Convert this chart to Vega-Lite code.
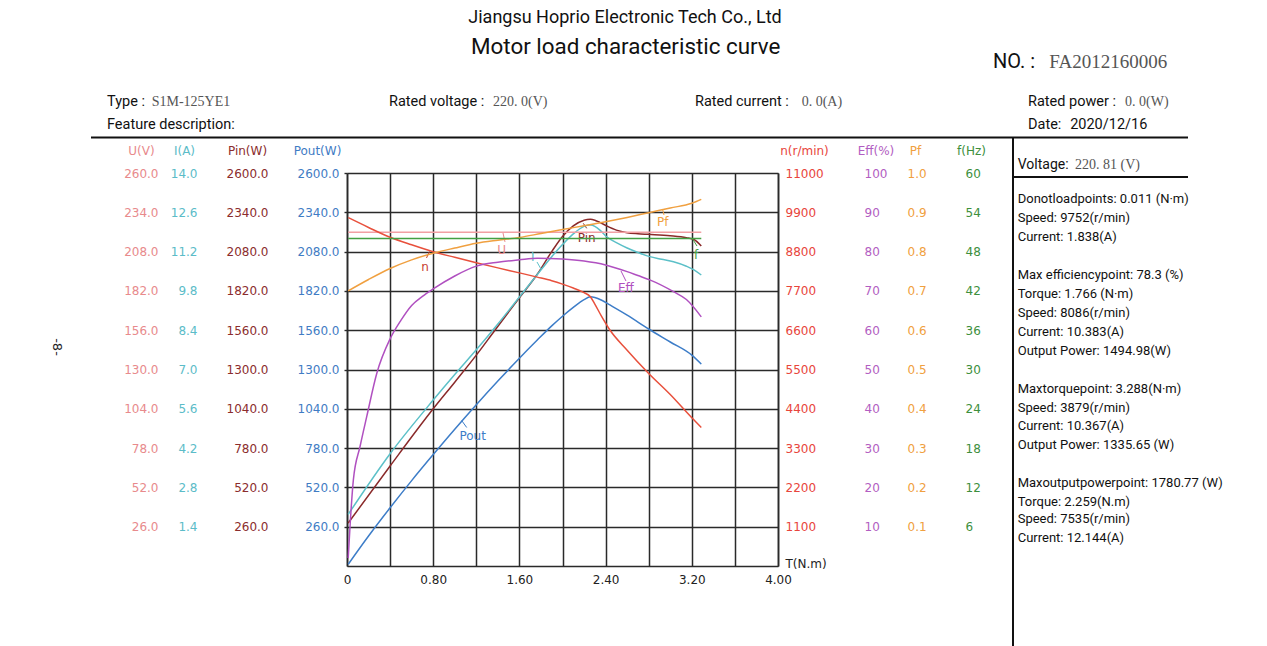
{
  "$schema": "https://vega.github.io/schema/vega-lite/v6.json",
  "width": 431,
  "height": 393,
  "autosize": {"type": "none"},
  "padding": {"left": 347, "top": 173, "right": 489, "bottom": 80},
  "background": "white",
  "config": {
    "view": {"stroke": null},
    "axis": {
      "labelFont": "DejaVu Sans",
      "titleFont": "DejaVu Sans",
      "labelFontSize": 12,
      "titleFontSize": 12,
      "titleFontWeight": "normal",
      "labelOverlap": false,
      "labelBound": false,
      "labelFlush": false
    }
  },
  "datasets": {
    "curves": [
      {"s": "U", "T": 0.011, "v": 220.81}, {"s": "U", "T": 3.288, "v": 220.81},
      {"s": "f", "T": 0.011, "v": 50.0}, {"s": "f", "T": 3.288, "v": 50.0},

      {"s": "I", "T": 0.011, "v": 1.838}, {"s": "I", "T": 0.4, "v": 4.0},
      {"s": "I", "T": 0.8, "v": 5.91}, {"s": "I", "T": 1.0, "v": 6.82},
      {"s": "I", "T": 1.2, "v": 7.70}, {"s": "I", "T": 1.4, "v": 8.62}, {"s": "I", "T": 1.6, "v": 9.58},
      {"s": "I", "T": 1.766, "v": 10.383}, {"s": "I", "T": 1.9, "v": 11.02}, {"s": "I", "T": 2.0, "v": 11.45},
      {"s": "I", "T": 2.1, "v": 11.83}, {"s": "I", "T": 2.2, "v": 12.10}, {"s": "I", "T": 2.259, "v": 12.144},
      {"s": "I", "T": 2.3, "v": 12.10}, {"s": "I", "T": 2.36, "v": 11.92}, {"s": "I", "T": 2.41, "v": 11.73},
      {"s": "I", "T": 2.5, "v": 11.52}, {"s": "I", "T": 2.6, "v": 11.33}, {"s": "I", "T": 2.7, "v": 11.17},
      {"s": "I", "T": 2.81, "v": 11.02}, {"s": "I", "T": 2.92, "v": 10.93}, {"s": "I", "T": 3.03, "v": 10.84},
      {"s": "I", "T": 3.15, "v": 10.68}, {"s": "I", "T": 3.22, "v": 10.55}, {"s": "I", "T": 3.288, "v": 10.367},

      {"s": "Pin", "T": 0.011, "v": 284}, {"s": "Pin", "T": 0.4, "v": 662},
      {"s": "Pin", "T": 0.8, "v": 1040}, {"s": "Pin", "T": 1.0, "v": 1216},
      {"s": "Pin", "T": 1.2, "v": 1395}, {"s": "Pin", "T": 1.373, "v": 1560},
      {"s": "Pin", "T": 1.6, "v": 1775}, {"s": "Pin", "T": 1.766, "v": 1930}, {"s": "Pin", "T": 1.9, "v": 2080},
      {"s": "Pin", "T": 2.0, "v": 2180}, {"s": "Pin", "T": 2.1, "v": 2250}, {"s": "Pin", "T": 2.2, "v": 2288},
      {"s": "Pin", "T": 2.259, "v": 2294}, {"s": "Pin", "T": 2.3, "v": 2288}, {"s": "Pin", "T": 2.35, "v": 2272},
      {"s": "Pin", "T": 2.41, "v": 2250}, {"s": "Pin", "T": 2.5, "v": 2222}, {"s": "Pin", "T": 2.6, "v": 2205},
      {"s": "Pin", "T": 2.7, "v": 2198}, {"s": "Pin", "T": 2.8, "v": 2194}, {"s": "Pin", "T": 3.0, "v": 2185},
      {"s": "Pin", "T": 3.15, "v": 2172}, {"s": "Pin", "T": 3.22, "v": 2160}, {"s": "Pin", "T": 3.288, "v": 2117},

      {"s": "Pout", "T": 0.011, "v": 11.23}, {"s": "Pout", "T": 0.2, "v": 198.47}, {"s": "Pout", "T": 0.4, "v": 385.37},
      {"s": "Pout", "T": 0.6, "v": 564.86}, {"s": "Pout", "T": 0.8, "v": 736.98}, {"s": "Pout", "T": 1.0, "v": 904.78},
      {"s": "Pout", "T": 1.2, "v": 1066.76}, {"s": "Pout", "T": 1.4, "v": 1223.44}, {"s": "Pout", "T": 1.6, "v": 1374.75},
      {"s": "Pout", "T": 1.766, "v": 1494.98}, {"s": "Pout", "T": 1.9, "v": 1588.77}, {"s": "Pout", "T": 2.0, "v": 1652.48},
      {"s": "Pout", "T": 2.1, "v": 1710.91}, {"s": "Pout", "T": 2.2, "v": 1762.44}, {"s": "Pout", "T": 2.259, "v": 1780.77},
      {"s": "Pout", "T": 2.3, "v": 1776}, {"s": "Pout", "T": 2.364, "v": 1758}, {"s": "Pout", "T": 2.44, "v": 1727},
      {"s": "Pout", "T": 2.6, "v": 1660}, {"s": "Pout", "T": 2.8, "v": 1568}, {"s": "Pout", "T": 3.0, "v": 1482},
      {"s": "Pout", "T": 3.2, "v": 1395}, {"s": "Pout", "T": 3.288, "v": 1335.65},

      {"s": "n", "T": 0.011, "v": 9752}, {"s": "n", "T": 0.2, "v": 9476}, {"s": "n", "T": 0.4, "v": 9200},
      {"s": "n", "T": 0.6, "v": 8990}, {"s": "n", "T": 0.8, "v": 8797}, {"s": "n", "T": 1.0, "v": 8640},
      {"s": "n", "T": 1.2, "v": 8489}, {"s": "n", "T": 1.4, "v": 8345}, {"s": "n", "T": 1.6, "v": 8205},
      {"s": "n", "T": 1.766, "v": 8086}, {"s": "n", "T": 1.9, "v": 7985}, {"s": "n", "T": 2.0, "v": 7890},
      {"s": "n", "T": 2.1, "v": 7780}, {"s": "n", "T": 2.2, "v": 7650}, {"s": "n", "T": 2.259, "v": 7535},
      {"s": "n", "T": 2.3, "v": 7330}, {"s": "n", "T": 2.364, "v": 6980}, {"s": "n", "T": 2.44, "v": 6606},
      {"s": "n", "T": 2.6, "v": 6040}, {"s": "n", "T": 2.8, "v": 5390}, {"s": "n", "T": 3.0, "v": 4800},
      {"s": "n", "T": 3.2, "v": 4150}, {"s": "n", "T": 3.288, "v": 3879},

      {"s": "Eff", "T": 0.011, "v": 2.0}, {"s": "Eff", "T": 0.03, "v": 11.0}, {"s": "Eff", "T": 0.059, "v": 21.9},
      {"s": "Eff", "T": 0.121, "v": 30.4}, {"s": "Eff", "T": 0.183, "v": 38.0}, {"s": "Eff", "T": 0.276, "v": 49.0},
      {"s": "Eff", "T": 0.4, "v": 57.8}, {"s": "Eff", "T": 0.5, "v": 62.5}, {"s": "Eff", "T": 0.6, "v": 66.3},
      {"s": "Eff", "T": 0.7, "v": 68.6}, {"s": "Eff", "T": 0.8, "v": 70.5}, {"s": "Eff", "T": 1.0, "v": 73.8},
      {"s": "Eff", "T": 1.2, "v": 76.3}, {"s": "Eff", "T": 1.4, "v": 77.3}, {"s": "Eff", "T": 1.6, "v": 77.9},
      {"s": "Eff", "T": 1.766, "v": 78.3}, {"s": "Eff", "T": 2.0, "v": 78.1}, {"s": "Eff", "T": 2.2, "v": 77.6},
      {"s": "Eff", "T": 2.4, "v": 76.6}, {"s": "Eff", "T": 2.6, "v": 74.9}, {"s": "Eff", "T": 2.7, "v": 73.9},
      {"s": "Eff", "T": 2.81, "v": 72.8}, {"s": "Eff", "T": 3.03, "v": 69.8}, {"s": "Eff", "T": 3.15, "v": 67.8},
      {"s": "Eff", "T": 3.288, "v": 63.4},

      {"s": "Pf", "T": 0.011, "v": 0.700}, {"s": "Pf", "T": 0.2, "v": 0.729}, {"s": "Pf", "T": 0.4, "v": 0.757},
      {"s": "Pf", "T": 0.6, "v": 0.779}, {"s": "Pf", "T": 0.8, "v": 0.796}, {"s": "Pf", "T": 1.0, "v": 0.809},
      {"s": "Pf", "T": 1.2, "v": 0.821}, {"s": "Pf", "T": 1.4, "v": 0.829}, {"s": "Pf", "T": 1.6, "v": 0.836},
      {"s": "Pf", "T": 1.8, "v": 0.846}, {"s": "Pf", "T": 2.0, "v": 0.856}, {"s": "Pf", "T": 2.2, "v": 0.866},
      {"s": "Pf", "T": 2.4, "v": 0.876}, {"s": "Pf", "T": 2.6, "v": 0.887}, {"s": "Pf", "T": 2.8, "v": 0.899},
      {"s": "Pf", "T": 3.0, "v": 0.911}, {"s": "Pf", "T": 3.2, "v": 0.923}, {"s": "Pf", "T": 3.288, "v": 0.933}
    ],
    "tags": [
      {"s": "n", "T": 0.724, "v": 8377, "label": "n"},
      {"s": "U", "T": 1.436, "v": 209.1, "label": "U"},
      {"s": "I", "T": 1.7234, "v": 10.997, "label": "I"},
      {"s": "Pin", "T": 2.2246, "v": 2168, "label": "Pin"},
      {"s": "Pf", "T": 2.93, "v": 0.8746, "label": "Pf"},
      {"s": "f", "T": 3.239, "v": 47.48, "label": "f"},
      {"s": "Eff", "T": 2.589, "v": 70.66, "label": "Eff"},
      {"s": "Pout", "T": 1.1666, "v": 860, "label": "Pout"}
    ],
    "leaders": [
      {"s": "n", "T": 0.7657, "v": 8803, "T2": 0.7378, "v2": 8621},
      {"s": "U", "T": 1.4478, "v": 220.3, "T2": 1.4664, "v2": 214.4},
      {"s": "I", "T": 1.7633, "v": 10.83, "T2": 1.8005, "v2": 10.58},
      {"s": "Pin", "T": 2.193, "v": 2267, "T2": 2.2246, "v2": 2234},
      {"s": "Pf", "T": 2.93, "v": 0.9059, "T2": 2.942, "v2": 0.8931},
      {"s": "f", "T": 3.2018, "v": 50.08, "T2": 3.2483, "v2": 48.85},
      {"s": "Eff", "T": 2.543, "v": 75.06, "T2": 2.589, "v2": 72.52},
      {"s": "Pout", "T": 1.0646, "v": 961.9, "T2": 1.111, "v2": 916.3}
    ],
    "headings": [
      {"T": 2.58005, "v": 3625.45, "txt": "Jiangsu Hoprio Electronic Tech Co., Ltd", "sz": 18},
      {"T": 2.58654, "v": 3435.57, "txt": "Motor load characteristic curve", "sz": 22.4}
    ],
    "fields": [
      {"T": 5.99536, "v": 3336.34, "txt": "NO. :", "sz": 20},
      {"T": -2.22738, "v": 3071.72, "txt": "Type :", "sz": 14.5},
      {"T": -2.22738, "v": 2917.56, "txt": "Feature description:", "sz": 14.5},
      {"T": 0.38979, "v": 3071.72, "txt": "Rated voltage :", "sz": 14.5},
      {"T": 3.2297, "v": 3071.72, "txt": "Rated current  :", "sz": 14.5},
      {"T": 6.32018, "v": 3071.72, "txt": "Rated power :", "sz": 14.5},
      {"T": 6.32018, "v": 2917.56, "txt": "Date:", "sz": 14.5},
      {"T": 6.71151, "v": 2917.56, "txt": "2020/12/16", "sz": 14.5},
      {"T": 6.22459, "v": 2652.93, "txt": "Voltage:", "sz": 14}
    ],
    "panel": [
      {"T": 6.22459, "v": 2426.0, "txt": "Donotloadpoints: 0.011 (N·m)"},
      {"T": 6.22459, "v": 2300.31, "txt": "Speed: 9752(r/min)"},
      {"T": 6.22459, "v": 2174.61, "txt": "Current: 1.838(A)"},
      {"T": 6.22459, "v": 1925.19, "txt": "Max efficiencypoint: 78.3 (%)"},
      {"T": 6.22459, "v": 1799.49, "txt": "Torque: 1.766 (N·m)"},
      {"T": 6.22459, "v": 1675.78, "txt": "Speed: 8086(r/min)"},
      {"T": 6.22459, "v": 1550.08, "txt": "Current: 10.383(A)"},
      {"T": 6.22459, "v": 1422.39, "txt": "Output Power: 1494.98(W)"},
      {"T": 6.22459, "v": 1169.01, "txt": "Maxtorquepoint: 3.288(N·m)"},
      {"T": 6.22459, "v": 1047.28, "txt": "Speed: 3879(r/min)"},
      {"T": 6.22459, "v": 926.21, "txt": "Current: 10.367(A)"},
      {"T": 6.22459, "v": 800.51, "txt": "Output Power: 1335.65 (W)"},
      {"T": 6.22459, "v": 547.12, "txt": "Maxoutputpowerpoint: 1780.77 (W)"},
      {"T": 6.22459, "v": 425.39, "txt": "Torque: 2.259(N.m)"},
      {"T": 6.22459, "v": 308.96, "txt": "Speed: 7535(r/min)"},
      {"T": 6.22459, "v": 187.23, "txt": "Current: 12.144(A)"}
    ],
    "values": [
      {"T": 6.51786, "v": 3336.34, "txt": "FA2012160006", "sz": 19},
      {"T": -1.81253, "v": 3071.72, "txt": "S1M-125YE1", "sz": 14},
      {"T": 1.35499, "v": 3071.72, "txt": "220. 0(V)", "sz": 14},
      {"T": 4.21995, "v": 3071.72, "txt": "0. 0(A)", "sz": 14},
      {"T": 7.22042, "v": 3071.72, "txt": "0. 0(W)", "sz": 14},
      {"T": 6.75638, "v": 2652.93, "txt": "220. 81 (V)", "sz": 14}
    ],
    "page": [
      {"T": -2.69141, "v": 1448.85, "txt": "-8-"}
    ],
    "rules": [
      {"T": -2.37587, "v": 2834.86, "T2": 7.8051, "v2": 2834.86},
      {"T": 6.18097, "v": 2834.86, "T2": 6.18097, "v2": -529.26},
      {"T": 6.18097, "v": 2573.54, "T2": 7.8051, "v2": 2573.54}
    ]
  },
  "encoding": {
    "x": {
      "field": "T", "type": "quantitative",
      "scale": {"domain": [0, 4], "nice": false, "zero": false},
      "axis": {
        "orient": "bottom",
        "values": [0, 0.4, 0.8, 1.2, 1.6, 2, 2.4, 2.8, 3.2, 3.6, 4],
        "grid": true, "gridColor": "#2a2a2a", "gridWidth": 1.5,
        "domain": true, "domainColor": "#2a2a2a", "domainWidth": 1.6,
        "ticks": false, "labelPadding": 8, "labelColor": "#222",
        "labelExpr": "(round(datum.value * 10) % 8 == 0) ? (datum.value == 0 ? '0' : format(datum.value, '.2f')) : ''",
        "title": "T(N.m)", "titleColor": "#222", "titleX": 438, "titleY": -3,
        "titleAlign": "left", "titleBaseline": "middle", "titleAngle": 0
      }
    }
  },
  "resolve": {"scale": {"y": "independent"}, "axis": {"y": "independent"}},
  "layer": [
    {
      "encoding": {
        "y": {
          "field": "v", "type": "quantitative",
          "scale": {"domain": [0, 2600], "nice": false, "zero": false},
          "axis": {
            "orient": "left", "offset": 0,
            "values": [260, 520, 780, 1040, 1300, 1560, 1820, 2080, 2340, 2600],
            "format": ".1f",
            "grid": true, "gridColor": "#2a2a2a", "gridWidth": 1.5,
            "domain": true, "domainColor": "#2a2a2a", "domainWidth": 1.6,
            "ticks": true, "tickSize": 3, "tickColor": "#2a2a2a", "tickWidth": 1.4,
            "labelPadding": 5, "labelColor": "#3f7cc4",
            "title": "Pout(W)", "titleColor": "#3f7cc4", "titleAngle": 0,
            "titleAlign": "center", "titleBaseline": "middle", "titleX": -30, "titleY": -23
          }
        }
      },
      "layer": [
        {
          "data": {"name": "curves"},
          "transform": [{"filter": "datum.s === 'Pout'"}],
          "mark": {"type": "line", "color": "#3d7dc8", "strokeWidth": 1.5, "interpolate": "monotone"}
        },
        {
          "data": {"name": "tags"},
          "transform": [{"filter": "datum.s === 'Pout'"}],
          "mark": {"type": "text", "color": "#3d7dc8", "font": "DejaVu Sans", "fontSize": 12, "align": "center", "baseline": "middle"},
          "encoding": {"text": {"field": "label"}}
        },
        {
          "data": {"name": "leaders"},
          "transform": [{"filter": "datum.s === 'Pout'"}],
          "mark": {"type": "rule", "color": "#3d7dc8", "strokeWidth": 1},
          "encoding": {"x2": {"field": "T2"}, "y2": {"field": "v2"}}
        }
      ]
    },
    {
      "encoding": {
        "y": {
          "field": "v", "type": "quantitative",
          "scale": {"domain": [0, 2600], "nice": false, "zero": false},
          "axis": {
            "orient": "left", "offset": 79,
            "values": [260, 520, 780, 1040, 1300, 1560, 1820, 2080, 2340, 2600],
            "format": ".1f", "grid": false, "domain": false, "ticks": false,
            "labelPadding": 0, "labelColor": "#8b2d2d",
            "title": "Pin(W)", "titleColor": "#8b2d2d", "titleAngle": 0,
            "titleAlign": "center", "titleBaseline": "middle", "titleX": -21, "titleY": -23
          }
        }
      },
      "layer": [
        {
          "data": {"name": "curves"},
          "transform": [{"filter": "datum.s === 'Pin'"}],
          "mark": {"type": "line", "color": "#8a2a2a", "strokeWidth": 1.5, "interpolate": "monotone"}
        },
        {
          "data": {"name": "tags"},
          "transform": [{"filter": "datum.s === 'Pin'"}],
          "mark": {"type": "text", "color": "#8a2a2a", "font": "DejaVu Sans", "fontSize": 12, "align": "center", "baseline": "middle"},
          "encoding": {"text": {"field": "label"}}
        },
        {
          "data": {"name": "leaders"},
          "transform": [{"filter": "datum.s === 'Pin'"}],
          "mark": {"type": "rule", "color": "#8a2a2a", "strokeWidth": 1},
          "encoding": {"x2": {"field": "T2"}, "y2": {"field": "v2"}}
        }
      ]
    },
    {
      "encoding": {
        "y": {
          "field": "v", "type": "quantitative",
          "scale": {"domain": [0, 14], "nice": false, "zero": false},
          "axis": {
            "orient": "left", "offset": 150,
            "values": [1.4, 2.8, 4.2, 5.6, 7, 8.4, 9.8, 11.2, 12.6, 14],
            "format": ".1f", "grid": false, "domain": false, "ticks": false,
            "labelPadding": 0, "labelColor": "#5bbcc8",
            "title": "I(A)", "titleColor": "#5bbcc8", "titleAngle": 0,
            "titleAlign": "center", "titleBaseline": "middle", "titleX": -13, "titleY": -23
          }
        }
      },
      "layer": [
        {
          "data": {"name": "curves"},
          "transform": [{"filter": "datum.s === 'I'"}],
          "mark": {"type": "line", "color": "#5cc0c8", "strokeWidth": 1.5, "interpolate": "monotone"}
        },
        {
          "data": {"name": "tags"},
          "transform": [{"filter": "datum.s === 'I'"}],
          "mark": {"type": "text", "color": "#5cc0c8", "font": "DejaVu Sans", "fontSize": 12, "align": "center", "baseline": "middle"},
          "encoding": {"text": {"field": "label"}}
        },
        {
          "data": {"name": "leaders"},
          "transform": [{"filter": "datum.s === 'I'"}],
          "mark": {"type": "rule", "color": "#5cc0c8", "strokeWidth": 1},
          "encoding": {"x2": {"field": "T2"}, "y2": {"field": "v2"}}
        }
      ]
    },
    {
      "encoding": {
        "y": {
          "field": "v", "type": "quantitative",
          "scale": {"domain": [0, 260], "nice": false, "zero": false},
          "axis": {
            "orient": "left", "offset": 189,
            "values": [26, 52, 78, 104, 130, 156, 182, 208, 234, 260],
            "format": ".1f", "grid": false, "domain": false, "ticks": false,
            "labelPadding": 0, "labelColor": "#e88a8c",
            "title": "U(V)", "titleColor": "#e88a8c", "titleAngle": 0,
            "titleAlign": "center", "titleBaseline": "middle", "titleX": -17, "titleY": -23
          }
        }
      },
      "layer": [
        {
          "data": {"name": "curves"},
          "transform": [{"filter": "datum.s === 'U'"}],
          "mark": {"type": "line", "color": "#f2a0a4", "strokeWidth": 1.5}
        },
        {
          "data": {"name": "tags"},
          "transform": [{"filter": "datum.s === 'U'"}],
          "mark": {"type": "text", "color": "#e88a8c", "font": "DejaVu Sans", "fontSize": 12, "align": "center", "baseline": "middle"},
          "encoding": {"text": {"field": "label"}}
        },
        {
          "data": {"name": "leaders"},
          "transform": [{"filter": "datum.s === 'U'"}],
          "mark": {"type": "rule", "color": "#e88a8c", "strokeWidth": 1},
          "encoding": {"x2": {"field": "T2"}, "y2": {"field": "v2"}}
        }
      ]
    },
    {
      "encoding": {
        "y": {
          "field": "v", "type": "quantitative",
          "scale": {"domain": [0, 11000], "nice": false, "zero": false},
          "axis": {
            "orient": "right", "offset": 0,
            "values": [1100, 2200, 3300, 4400, 5500, 6600, 7700, 8800, 9900, 11000],
            "format": "d", "grid": false,
            "domain": true, "domainColor": "#2a2a2a", "domainWidth": 1.6, "ticks": false,
            "labelPadding": 7, "labelColor": "#e8453c",
            "title": "n(r/min)", "titleColor": "#e8453c", "titleAngle": 0,
            "titleAlign": "center", "titleBaseline": "middle", "titleX": 26, "titleY": -23
          }
        }
      },
      "layer": [
        {
          "data": {"name": "curves"},
          "transform": [{"filter": "datum.s === 'n'"}],
          "mark": {"type": "line", "color": "#e8503c", "strokeWidth": 1.5, "interpolate": "monotone"}
        },
        {
          "data": {"name": "tags"},
          "transform": [{"filter": "datum.s === 'n'"}],
          "mark": {"type": "text", "color": "#c8402f", "font": "DejaVu Sans", "fontSize": 12, "align": "center", "baseline": "middle"},
          "encoding": {"text": {"field": "label"}}
        },
        {
          "data": {"name": "leaders"},
          "transform": [{"filter": "datum.s === 'n'"}],
          "mark": {"type": "rule", "color": "#c8402f", "strokeWidth": 1},
          "encoding": {"x2": {"field": "T2"}, "y2": {"field": "v2"}}
        }
      ]
    },
    {
      "encoding": {
        "y": {
          "field": "v", "type": "quantitative",
          "scale": {"domain": [0, 100], "nice": false, "zero": false},
          "axis": {
            "orient": "right", "offset": 86,
            "values": [10, 20, 30, 40, 50, 60, 70, 80, 90, 100],
            "format": "d", "grid": false, "domain": false, "ticks": false,
            "labelPadding": 0, "labelColor": "#b25ec2",
            "title": "Eff(%)", "titleColor": "#b25ec2", "titleAngle": 0,
            "titleAlign": "center", "titleBaseline": "middle", "titleX": 11.5, "titleY": -23
          }
        }
      },
      "layer": [
        {
          "data": {"name": "curves"},
          "transform": [{"filter": "datum.s === 'Eff'"}],
          "mark": {"type": "line", "color": "#b050c0", "strokeWidth": 1.5, "interpolate": "monotone"}
        },
        {
          "data": {"name": "tags"},
          "transform": [{"filter": "datum.s === 'Eff'"}],
          "mark": {"type": "text", "color": "#b050c0", "font": "DejaVu Sans", "fontSize": 12, "align": "center", "baseline": "middle"},
          "encoding": {"text": {"field": "label"}}
        },
        {
          "data": {"name": "leaders"},
          "transform": [{"filter": "datum.s === 'Eff'"}],
          "mark": {"type": "rule", "color": "#b050c0", "strokeWidth": 1},
          "encoding": {"x2": {"field": "T2"}, "y2": {"field": "v2"}}
        }
      ]
    },
    {
      "encoding": {
        "y": {
          "field": "v", "type": "quantitative",
          "scale": {"domain": [0, 1], "nice": false, "zero": false},
          "axis": {
            "orient": "right", "offset": 129,
            "values": [0.1, 0.2, 0.3, 0.4, 0.5, 0.6, 0.7, 0.8, 0.9, 1.0],
            "format": ".1f", "grid": false, "domain": false, "ticks": false,
            "labelPadding": 0, "labelColor": "#f0a040",
            "title": "Pf", "titleColor": "#f0a040", "titleAngle": 0,
            "titleAlign": "center", "titleBaseline": "middle", "titleX": 8, "titleY": -23
          }
        }
      },
      "layer": [
        {
          "data": {"name": "curves"},
          "transform": [{"filter": "datum.s === 'Pf'"}],
          "mark": {"type": "line", "color": "#f0a040", "strokeWidth": 1.5, "interpolate": "monotone"}
        },
        {
          "data": {"name": "tags"},
          "transform": [{"filter": "datum.s === 'Pf'"}],
          "mark": {"type": "text", "color": "#f0a040", "font": "DejaVu Sans", "fontSize": 12, "align": "center", "baseline": "middle"},
          "encoding": {"text": {"field": "label"}}
        },
        {
          "data": {"name": "leaders"},
          "transform": [{"filter": "datum.s === 'Pf'"}],
          "mark": {"type": "rule", "color": "#f0a040", "strokeWidth": 1},
          "encoding": {"x2": {"field": "T2"}, "y2": {"field": "v2"}}
        }
      ]
    },
    {
      "encoding": {
        "y": {
          "field": "v", "type": "quantitative",
          "scale": {"domain": [0, 60], "nice": false, "zero": false},
          "axis": {
            "orient": "right", "offset": 187,
            "values": [6, 12, 18, 24, 30, 36, 42, 48, 54, 60],
            "format": "d", "grid": false, "domain": false, "ticks": false,
            "labelPadding": 0, "labelColor": "#3d8f3d",
            "title": "f(Hz)", "titleColor": "#3d8f3d", "titleAngle": 0,
            "titleAlign": "center", "titleBaseline": "middle", "titleX": 6, "titleY": -23
          }
        }
      },
      "layer": [
        {
          "data": {"name": "curves"},
          "transform": [{"filter": "datum.s === 'f'"}],
          "mark": {"type": "line", "color": "#44a044", "strokeWidth": 1.5}
        },
        {
          "data": {"name": "tags"},
          "transform": [{"filter": "datum.s === 'f'"}],
          "mark": {"type": "text", "color": "#44a044", "font": "DejaVu Sans", "fontSize": 12, "align": "center", "baseline": "middle"},
          "encoding": {"text": {"field": "label"}}
        },
        {
          "data": {"name": "leaders"},
          "transform": [{"filter": "datum.s === 'f'"}],
          "mark": {"type": "rule", "color": "#44a044", "strokeWidth": 1},
          "encoding": {"x2": {"field": "T2"}, "y2": {"field": "v2"}}
        }
      ]
    },
    {
      "encoding": {
        "y": {"field": "v", "type": "quantitative", "scale": {"domain": [0, 2600], "nice": false, "zero": false}, "axis": null}
      },
      "layer": [
        {
          "data": {"name": "rules"},
          "mark": {"type": "rule", "color": "#111", "strokeWidth": 2},
          "encoding": {"x2": {"field": "T2"}, "y2": {"field": "v2"}}
        },
        {
          "data": {"name": "headings"},
          "mark": {"type": "text", "font": "Roboto", "color": "#111", "align": "center", "baseline": "middle"},
          "encoding": {
            "size": {"field": "sz", "type": "quantitative", "scale": null},
            "text": {"field": "txt"}
          }
        },
        {
          "data": {"name": "fields"},
          "mark": {"type": "text", "font": "Roboto", "color": "#111", "align": "left", "baseline": "middle"},
          "encoding": {
            "size": {"field": "sz", "type": "quantitative", "scale": null},
            "text": {"field": "txt"}
          }
        },
        {
          "data": {"name": "panel"},
          "mark": {"type": "text", "font": "Roboto", "fontSize": 13, "color": "#111", "align": "left", "baseline": "middle"},
          "encoding": {"text": {"field": "txt"}}
        },
        {
          "data": {"name": "values"},
          "mark": {"type": "text", "font": "Liberation Serif", "color": "#555", "align": "left", "baseline": "middle"},
          "encoding": {
            "size": {"field": "sz", "type": "quantitative", "scale": null},
            "text": {"field": "txt"}
          }
        },
        {
          "data": {"name": "page"},
          "mark": {"type": "text", "font": "DejaVu Sans", "fontSize": 13, "color": "#222", "align": "center", "baseline": "middle", "angle": 90},
          "encoding": {"text": {"field": "txt"}}
        }
      ]
    }
  ]
}
